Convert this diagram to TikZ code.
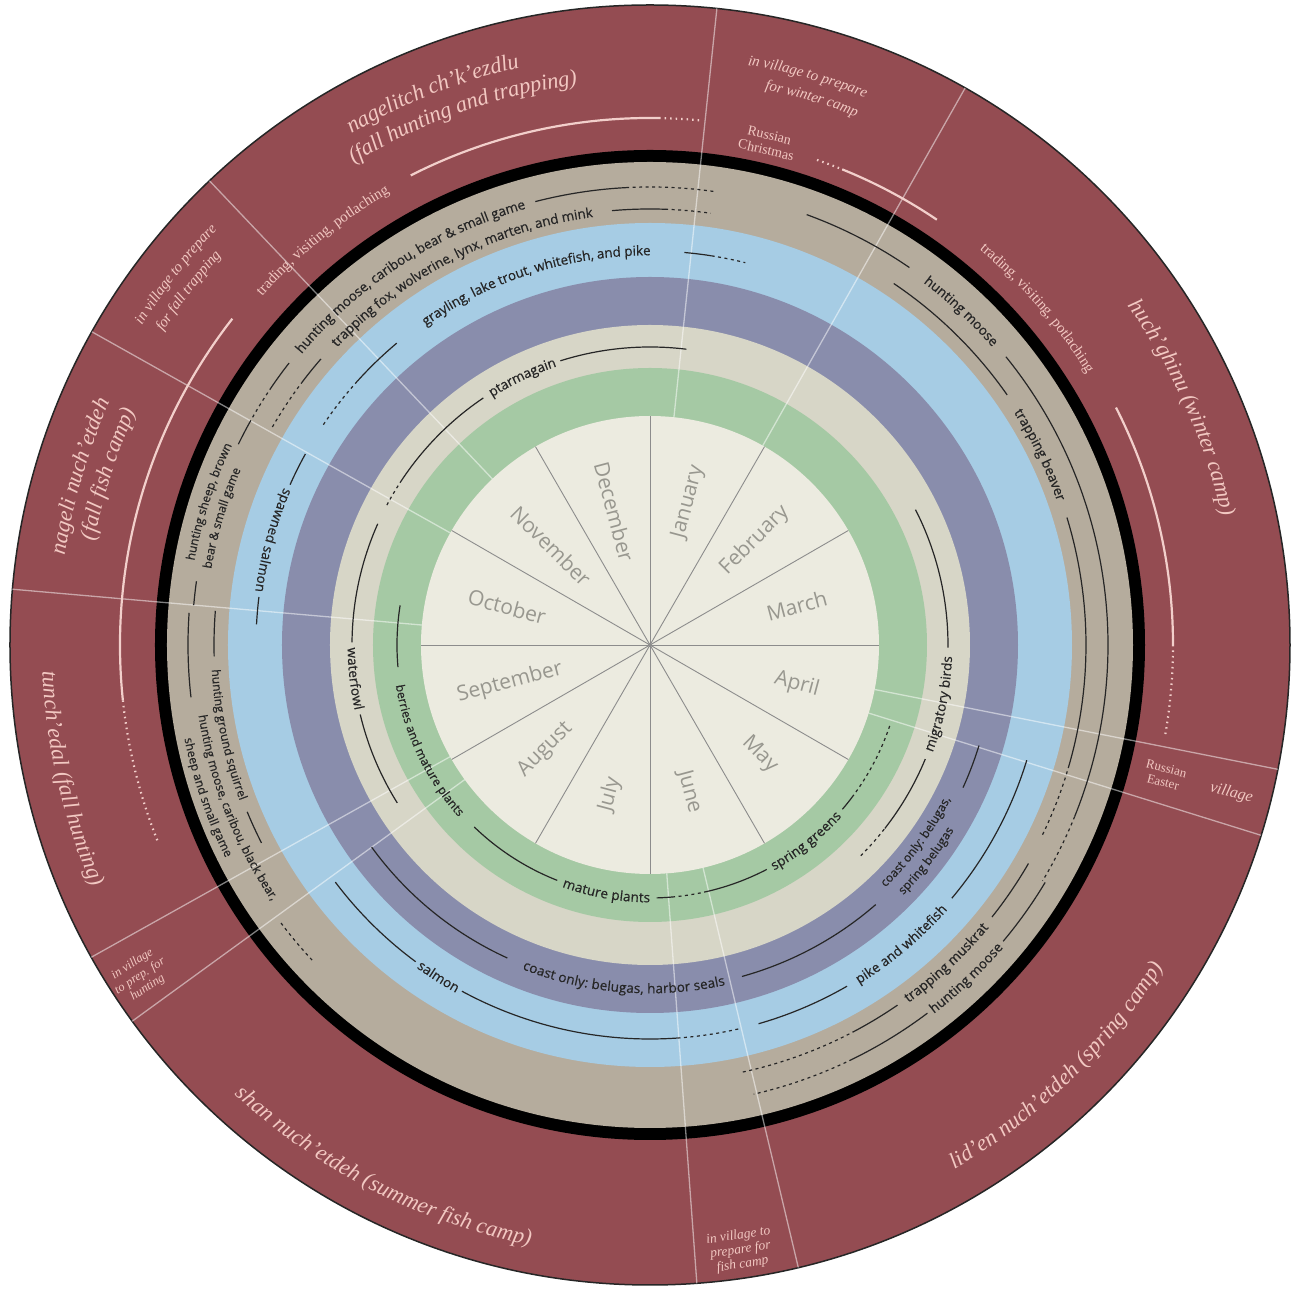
\documentclass[tikz,border=0pt]{standalone}
\usepackage{fontspec}
\setmainfont{Liberation Serif}
\newfontfamily\labfont{Open Sans}[FakeBold=0.5]
\newfontfamily\monthfont{Open Sans}
\usetikzlibrary{decorations.text}
\definecolor{redring}{HTML}{944C52}
\definecolor{tanring}{HTML}{B5AC9D}
\definecolor{bluering}{HTML}{A6CCE4}
\definecolor{slatering}{HTML}{898DAC}
\definecolor{grayring}{HTML}{D7D6C7}
\definecolor{greenring}{HTML}{A5C9A4}
\definecolor{cream}{HTML}{ECEBE0}
\definecolor{ink}{HTML}{262626}
\definecolor{monthtxt}{HTML}{98978F}
\definecolor{pinktxt}{HTML}{F2C8C2}
\definecolor{pinkln}{HTML}{F2CFCB}
\tikzset{
  ln/.style={draw=ink,line width=1.2pt},
  lndash/.style={draw=ink,line width=1.2pt,dash pattern=on 3pt off 3.5pt},
  pk/.style={draw=pinkln,line width=2.2pt},
  pkdot/.style={draw=pinkln,line width=2.2pt,dash pattern=on 1.5pt off 4pt},
  divline/.style={draw=white,line width=1.3pt,opacity=0.5},
  monthln/.style={draw=black!45,line width=0.9pt},
  monthlbl/.style={font=\monthfont\fontsize{21}{24}\selectfont,text=monthtxt,inner sep=0pt},
  redlbl/.style={text=pinktxt,align=center,inner sep=0pt},
}
\newcommand\fmtIn{\labfont\fontsize{13.5}{15}\selectfont\color{ink}}
\newcommand\fmtInS{\labfont\fontsize{12}{13}\selectfont\color{ink}}
\newcommand\fmtRedBig{\itshape\fontsize{22.5}{26}\selectfont\color{pinktxt}}
\newcommand\fmtRedIt{\itshape\fontsize{15}{17}\selectfont\color{pinktxt}}
\newcommand\fmtRedSm{\fontsize{15}{17}\selectfont\color{pinktxt}}
\newcommand\arcseg[4][ln]{\draw[#1] (#2:#4pt) arc[start angle=#2,end angle=#3,radius=#4pt];}
\newcommand\cwtxt[5]{\path[decorate,decoration={text along path,text align=center,raise=#3,text={|#4|#5}}] ({#1+80}:#2pt) arc[start angle={#1+80},end angle={#1-80},radius=#2pt];}
\newcommand\ccwtxt[5]{\path[decorate,decoration={text along path,text align=center,raise=#3,text={|#4|#5}}] ({#1-80}:#2pt) arc[start angle={#1-80},end angle={#1+80},radius=#2pt];}
\begin{document}
\begin{tikzpicture}[x=1pt,y=1pt]
\fill[white] (-650,-644) rectangle (652,645);
\useasboundingbox (-650,-644) rectangle (652,645);
% rings
\fill[redring] (0,0) circle[radius=640pt];
\draw[black!85,line width=1.5pt] (0,0) circle[radius=640pt];
\fill[black] (0,0) circle[radius=495pt];
\fill[tanring] (0,0) circle[radius=483pt];
\fill[bluering] (0,0) circle[radius=422pt];
\fill[slatering] (0,0) circle[radius=368pt];
\fill[grayring] (0,0) circle[radius=320pt];
\fill[greenring] (0,0) circle[radius=277pt];
\fill[cream] (0,0) circle[radius=229pt];
% month dividers
\foreach \a in {0,30,...,330} \draw[monthln] (0,0) -- (\a:229pt);
\fill[black!45] (0,0) circle[radius=2pt];
% season dividers
\foreach \a in {84,60.5,-11.2,-17.3,-76.6,-85.8,209.2,216,175,150.7,133.5}
  \draw[divline] (\a:229pt) -- (\a:640pt);

% ---------- red ring ----------
\arcseg[pk]{142}{186}{530}
\arcseg[pkdot]{186}{202}{530}
\arcseg[pk]{117}{89}{527}
\arcseg[pkdot]{89}{84.5}{527}
\arcseg[pkdot]{71}{68}{513}
\arcseg[pk]{68}{56}{513}
\arcseg[pk]{27}{0}{523}
\arcseg[pkdot]{0}{-10}{523}

\cwtxt{111.5}{598}{-6pt}{\fmtRedBig}{nagelitch ch'k'ezdlu}
\cwtxt{109.5}{571}{-6pt}{\fmtRedBig}{(fall hunting and trapping)}
\cwtxt{129}{526}{-4.5pt}{\fmtRedSm}{trading, visiting, potlaching}
\cwtxt{142}{604}{-4pt}{\fmtRedIt}{in village to prepare}
\cwtxt{142.5}{583}{-4pt}{\fmtRedIt}{for fall trapping}
\cwtxt{163.5}{598}{-6pt}{\fmtRedBig}{nageli nuch'etdeh}
\cwtxt{162.5}{571}{-6pt}{\fmtRedBig}{(fall fish camp)}
\ccwtxt{193}{602}{-6pt}{\fmtRedBig}{tunch'edal (fall hunting)}
\ccwtxt{243}{606}{-6pt}{\fmtRedBig}{shan nuch'etdeh (summer fish camp)}
\ccwtxt{-46}{600}{-6pt}{\fmtRedBig}{lid'en nuch'etdeh (spring camp)}
\cwtxt{24}{592}{-6pt}{\fmtRedBig}{huch'ghinu (winter camp)}
\cwtxt{41}{519}{-4.5pt}{\fmtRedSm}{trading, visiting, potlaching}
\cwtxt{74.5}{592}{-4pt}{\fmtRedIt}{in village to prepare}
\cwtxt{73.5}{571}{-4pt}{\fmtRedIt}{for winter camp}

\node[redlbl,font=\fontsize{14}{15}\selectfont,rotate=-13.2] (rchr) at (76.8:516pt) {Russian\\Christmas};
\node[redlbl,font=\fontsize{13}{14}\selectfont,rotate=-14.2] (reas) at (-14.2:531pt) {Russian\\Easter};
\node[redlbl,font=\itshape\fontsize{16}{18}\selectfont,rotate=-14.3] (vill) at (-14.3:600pt) {village};
\node[redlbl,font=\itshape\fontsize{12.5}{14}\selectfont,rotate=33] (ivh) at (213:608pt) {in village\\to prep. for\\hunting};
\node[redlbl,font=\itshape\fontsize{13.5}{14.5}\selectfont,rotate=8.5] (ivf) at (-81.5:612pt) {in village to\\prepare for\\fish camp};

% ---------- tan ring ----------
\cwtxt{123}{458}{-4.3pt}{\fmtIn}{hunting moose, caribou, bear {\&} small game}
\cwtxt{117}{436}{-4.3pt}{\fmtIn}{trapping fox, wolverine, lynx, marten, and mink}
\cwtxt{47}{458}{-4.3pt}{\fmtIn}{hunting moose}
\cwtxt{26}{436}{-4.3pt}{\fmtIn}{trapping beaver}
\ccwtxt{-46.5}{461}{-4.3pt}{\fmtIn}{hunting moose}
\ccwtxt{-47}{437}{-4.3pt}{\fmtIn}{trapping muskrat}
\cwtxt{162}{467}{-3.8pt}{\fmtInS}{hunting sheep, brown}
\cwtxt{163.5}{449}{-3.8pt}{\fmtInS}{bear {\&} small game}
\ccwtxt{192}{435}{-3.8pt}{\fmtInS}{hunting ground squirrel}
\ccwtxt{201.5}{453}{-3.8pt}{\fmtInS}{hunting moose, caribou, black bear,}
\ccwtxt{199}{471}{-3.8pt}{\fmtInS}{sheep and small game}

\arcseg{175}{172}{458}
\arcseg{154}{151}{458}
\arcseg[lndash]{151}{146}{458}
\arcseg{146}{142}{458}
\arcseg{104.5}{93}{458}
\arcseg[lndash]{93}{82}{458}
\arcseg{70}{55.5}{458}
\arcseg{39}{-22}{458}
\arcseg[lndash]{-22}{-31}{458}
\arcseg{-31}{-40}{461}
\arcseg{-53}{-64}{461}
\arcseg[lndash]{-64}{-77}{461}
\arcseg{176}{186.5}{462}
\arcseg[lndash]{217}{223}{462}

\arcseg[lndash]{150}{143}{436}
\arcseg{143}{139}{436}
\arcseg{95}{88}{436}
\arcseg[lndash]{88}{82}{436}
\arcseg{56}{35}{436}
\arcseg{17}{-16}{436}
\arcseg[lndash]{-16}{-26}{436}
\arcseg{-30}{-38.5}{437}
\arcseg{-55.5}{-62}{437}
\arcseg[lndash]{-62}{-78}{437}
\arcseg{175.5}{181.5}{436}
\arcseg{202.5}{207}{436}

% ---------- blue ring ----------
\cwtxt{107.5}{394}{-4.3pt}{\fmtIn}{grayling, lake trout, whitefish, and pike}
\ccwtxt{164.5}{394}{-4.3pt}{\fmtIn}{spawned salmon}
\ccwtxt{237.5}{394}{-4.3pt}{\fmtIn}{salmon}
\ccwtxt{-50}{394}{-4.3pt}{\fmtIn}{pike and whitefish}
\arcseg[lndash]{146}{138}{394}
\arcseg{138}{130}{394}
\arcseg{85}{81}{394}
\arcseg[lndash]{81}{76}{394}
\arcseg{151}{156}{394}
\arcseg{173}{177}{394}
\arcseg{217}{233.5}{394}
\arcseg{241.5}{274}{394}
\arcseg[lndash]{274}{283}{394}
\arcseg{-74}{-60}{394}
\arcseg{-40}{-17}{394}

% ---------- slate ring ----------
\ccwtxt{265.5}{344}{-4.3pt}{\fmtIn}{coast only: belugas, harbor seals}
\ccwtxt{-36.5}{334}{-3.8pt}{\fmtInS}{coast only: belugas,}
\ccwtxt{-38}{352}{-3.8pt}{\fmtInS}{spring belugas}
\arcseg{216}{245.5}{344}
\arcseg{285.5}{311}{344}
\arcseg{-24.5}{-17}{344}

% ---------- bird ring ----------
\cwtxt{115.5}{298}{-4.3pt}{\fmtIn}{ptarmagain}
\ccwtxt{186.5}{298}{-4.3pt}{\fmtIn}{waterfowl}
\ccwtxt{-11.5}{298}{-4.3pt}{\fmtIn}{migratory birds}
\arcseg[lndash]{152}{147}{298}
\arcseg{147}{124}{298}
\arcseg{107.5}{83}{298}
\arcseg{156}{179.5}{298}
\arcseg{193.5}{212}{298}
\arcseg[lndash]{-45}{-38}{298}
\arcseg{-38}{-22.5}{298}
\arcseg{-0.5}{27}{298}

% ---------- plant ring ----------
\ccwtxt{205.5}{253}{-4.3pt}{\fmtInS}{berries and mature plants}
\ccwtxt{260}{253}{-4.3pt}{\fmtIn}{mature plants}
\ccwtxt{-51.5}{253}{-4.3pt}{\fmtIn}{spring greens}
\arcseg{171}{185}{253}
\arcseg{226}{248.5}{253}
\arcseg{271.5}{275}{253}
\arcseg[lndash]{275}{283}{253}
\arcseg{-77}{-62.5}{253}
\arcseg{-40.5}{-37}{253}
\arcseg[lndash]{-37}{-18}{253}

% ---------- months ----------
\node[monthlbl,rotate=75] (jan) at (75:148pt) {January};
\node[monthlbl,rotate=45] (feb) at (45:148pt) {February};
\node[monthlbl,rotate=15] (mar) at (15:152pt) {March};
\node[monthlbl,rotate=-15] (apr) at (-15:152pt) {April};
\node[monthlbl,rotate=-45] (may) at (-45:155pt) {May};
\node[monthlbl,rotate=-75] (jun) at (-75:152pt) {June};
\node[monthlbl,rotate=75] (jul) at (255:155pt) {July};
\node[monthlbl,rotate=45] (aug) at (225:148pt) {August};
\node[monthlbl,rotate=15] (sep) at (195:145pt) {September};
\node[monthlbl,rotate=-15] (oct) at (165:148pt) {October};
\node[monthlbl,rotate=-45] (nov) at (135:140pt) {November};
\node[monthlbl,rotate=-75] (dec) at (105:138pt) {December};
\end{tikzpicture}
\end{document}
